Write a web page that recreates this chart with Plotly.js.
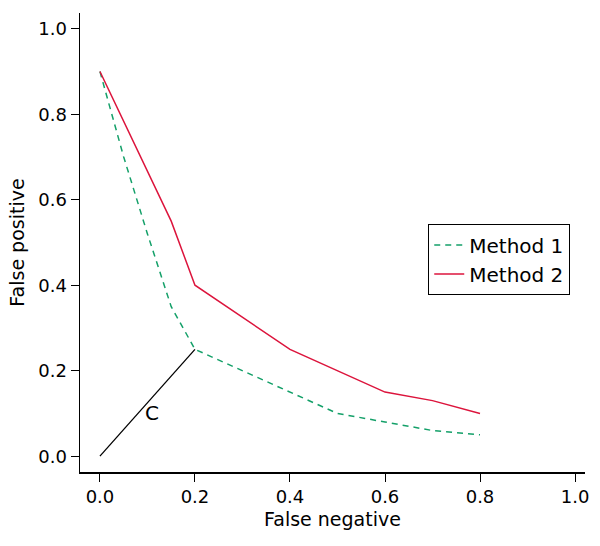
<!DOCTYPE html>
<html>
<head>
<meta charset="utf-8">
<script src="https://cdn.plot.ly/plotly-3.0.1.min.js"></script>
<style>
  html, body { margin: 0; padding: 0; background: #fff; }
  #chart { width: 600px; height: 546px; }
</style>
</head>
<body>
<div id="chart"></div>
<script>
var m1_x = [0, 0.05, 0.1, 0.15, 0.2, 0.3, 0.4, 0.5, 0.6, 0.7, 0.8];
var m1_y = [0.9, 0.7, 0.52, 0.35, 0.25, 0.2, 0.15, 0.1, 0.08, 0.06, 0.05];

var m2_x = [0, 0.15, 0.2, 0.4, 0.6, 0.7, 0.8];
var m2_y = [0.9, 0.55, 0.4, 0.25, 0.15, 0.13, 0.1];

var c_x = [0, 0.2];
var c_y = [0, 0.25];

var ticks = [0, 0.2, 0.4, 0.6, 0.8, 1.0];
var tickText = ["0.0", "0.2", "0.4", "0.6", "0.8", "1.0"];

var font = "DejaVu Sans, sans-serif";

var traces = [
    {
        x: m1_x, y: m1_y, mode: 'lines', name: 'Method 1',
        line: { color: 'rgb(20,160,105)', width: 1.5, dash: '6px,5px' }
    },
    {
        x: m2_x, y: m2_y, mode: 'lines', name: 'Method 2',
        line: { color: 'rgb(220,20,60)', width: 1.5 }
    },
    {
        x: c_x, y: c_y, mode: 'lines', showlegend: false,
        line: { color: 'black', width: 1.3 }
    }
];

var axisCommon = {
    tickvals: ticks, ticktext: tickText,
    showgrid: false, zeroline: false,
    showline: true, linecolor: 'black', linewidth: 1.5,
    ticks: 'outside', ticklen: 8, tickcolor: 'black', tickwidth: 1,
    tickfont: { size: 18, color: 'black', family: font }
};

var layout = {
    width: 600, height: 546,
    margin: { l: 80, r: 15, t: 13, b: 74 },
    paper_bgcolor: 'white', plot_bgcolor: 'white',
    font: { family: font, size: 18, color: 'black' },
    xaxis: Object.assign({}, axisCommon, {
        range: [-0.042, 1.021],
        title: { text: 'False negative', font: { size: 19 }, standoff: 6 }
    }),
    yaxis: Object.assign({}, axisCommon, {
        range: [-0.037, 1.037],
        title: { text: 'False positive', font: { size: 19 }, standoff: 8 }
    }),
    legend: {
        x: 0.689, y: 0.54, xanchor: 'left', yanchor: 'top',
        bordercolor: 'black', borderwidth: 1.3,
        font: { size: 20, color: 'black' },
        itemwidth: 30, tracegroupgap: 0
    },
    annotations: [{
        x: 0.11, y: 0.1, xref: 'x', yref: 'y',
        text: 'C', showarrow: false,
        font: { size: 20, color: 'black' }
    }]
};

Plotly.newPlot('chart', traces, layout, { displayModeBar: false, staticPlot: true });
</script>
</body>
</html>
